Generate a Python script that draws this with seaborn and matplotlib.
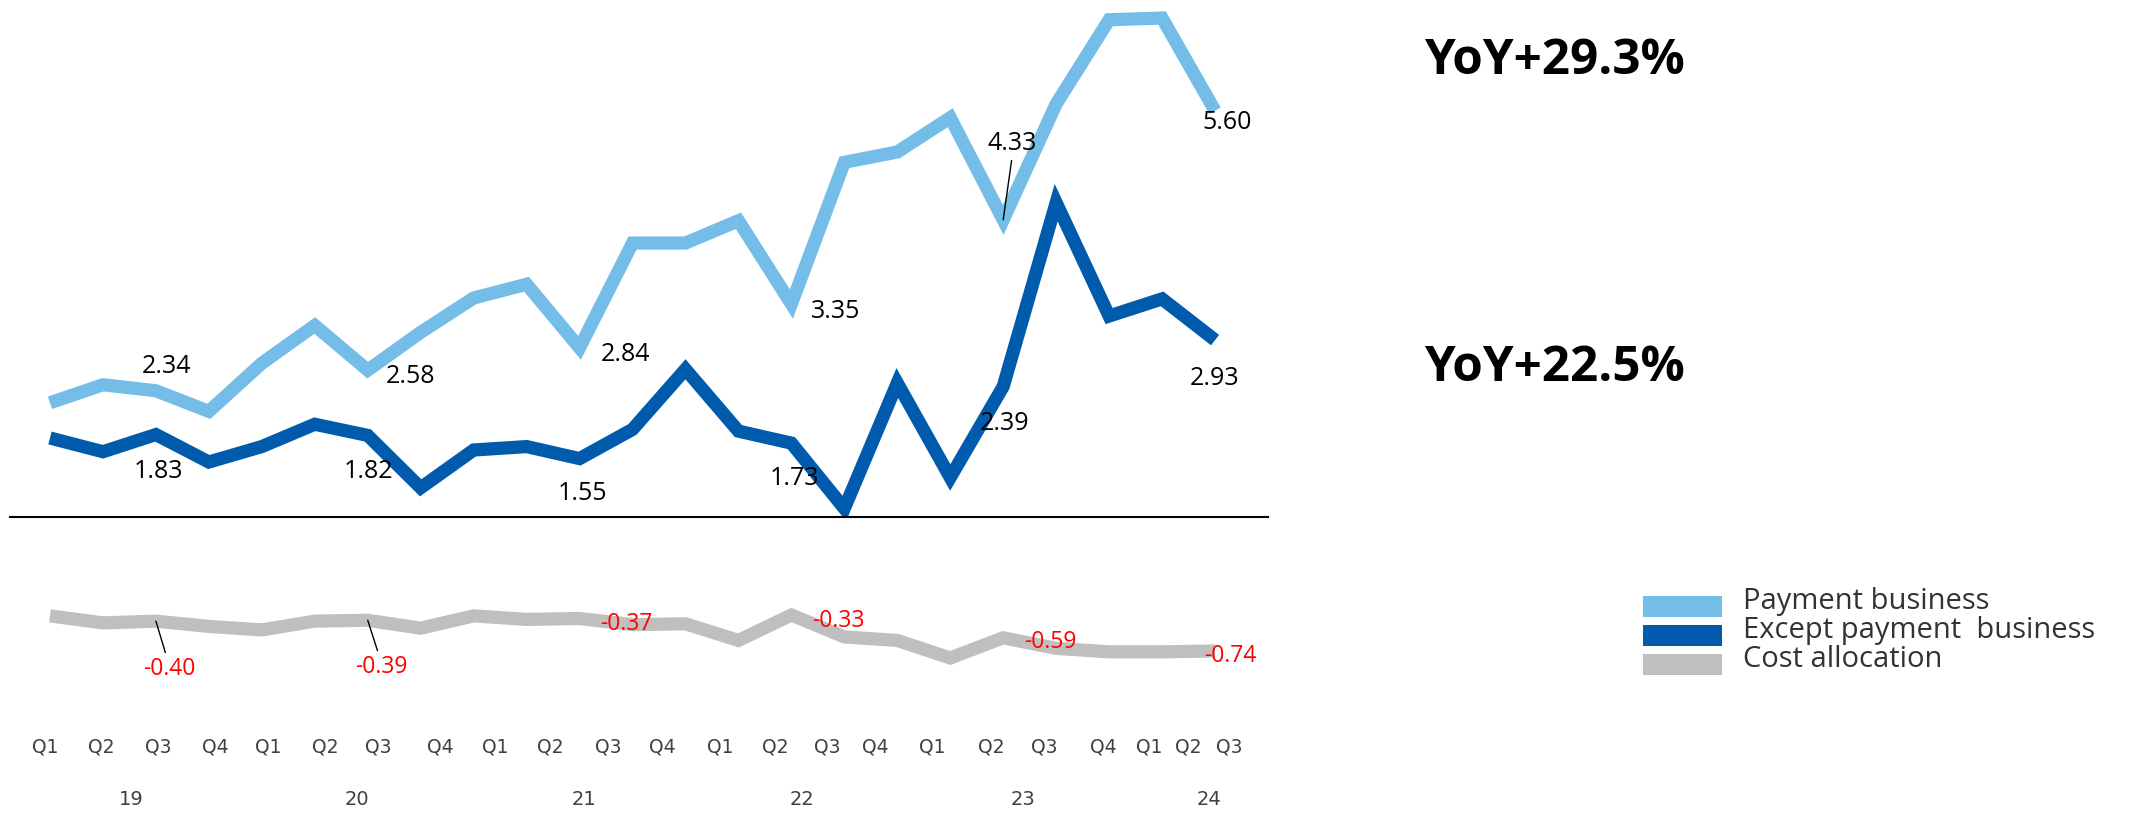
import matplotlib
matplotlib.use("Agg")
import matplotlib.pyplot as plt
from matplotlib.patches import Rectangle
from matplotlib.transforms import blended_transform_factory
import pandas as pd
import seaborn as sns

# ---- data -------------------------------------------------------------
quarters = ["Q1", "Q2", "Q3", "Q4"] * 5 + ["Q1", "Q2", "Q3"]
years = ["19", "20", "21", "22", "23", "24"]
payment = [2.20, 2.41, 2.34, 2.10, 2.66, 3.10, 2.58, 3.02, 3.42, 3.58, 2.84,
           4.06, 4.06, 4.32, 3.35, 5.00, 5.12, 5.52, 4.33, 5.68, 6.66, 6.68, 5.60]
except_payment = [1.79, 1.63, 1.83, 1.51, 1.69, 1.95, 1.82, 1.21, 1.65, 1.69, 1.55,
                  1.89, 2.59, 1.87, 1.73, 0.97, 2.43, 1.33, 2.39, 4.53, 3.21, 3.41, 2.93]
cost_allocation = [-0.34, -0.42, -0.40, -0.46, -0.50, -0.40, -0.39, -0.48, -0.34,
                   -0.38, -0.37, -0.44, -0.43, -0.62, -0.33, -0.58, -0.62, -0.82,
                   -0.59, -0.71, -0.75, -0.75, -0.74]
labelled_idx = [2, 6, 10, 14, 18, 22]          # Q3 of each year
yoy_texts = ["YoY+29.3%", "YoY+22.5%"]
series_names = ["Payment business", "Except payment  business", "Cost allocation"]

# ---- style ------------------------------------------------------------
sns.set_style("white")
plt.rcParams["font.family"] = ["Open Sans", "DejaVu Sans"]

C_PAY = "#75BDE9"
C_EXC = "#005BAC"
C_COST = "#BFBFBF"
LW = 9.5

n = len(quarters)
idx = list(range(n))
df = pd.DataFrame({"idx": idx, "payment": payment,
                   "except": except_payment, "cost": cost_allocation})

W, H = 2134, 814
fig = plt.figure(figsize=(W / 100, H / 100), dpi=100)

def px_axes(left, top, right, bottom):
    return fig.add_axes([left / W, 1 - bottom / H, (right - left) / W, (bottom - top) / H])

XLIM = (-0.755, 23.0)
ax_top = px_axes(10, 0, 1268, 517)
ax_bot = px_axes(10, 530, 1268, 700)

line_kw = dict(linewidth=LW, solid_joinstyle="miter", solid_capstyle="butt")
sns.lineplot(data=df, x="idx", y="payment", ax=ax_top, color=C_PAY, **line_kw)
sns.lineplot(data=df, x="idx", y="except", ax=ax_top, color=C_EXC, **line_kw)
sns.lineplot(data=df, x="idx", y="cost", ax=ax_bot, color=C_COST, **line_kw)

ax_top.set_xlim(*XLIM)
ax_top.set_ylim(0.87, 6.89)
ax_bot.set_xlim(*XLIM)
ax_bot.set_ylim(-1.299, 0.639)

for ax in (ax_top, ax_bot):
    ax.set_xlabel("")
    ax.set_ylabel("")
    ax.set_yticks([])
    for s in ax.spines.values():
        s.set_visible(False)
ax_top.set_xticks([])
ax_top.spines["bottom"].set_visible(True)
ax_top.spines["bottom"].set_color("black")
ax_top.spines["bottom"].set_linewidth(1.5)

# quarter tick labels (category axis spread slightly wider than the points) and year labels
tick_pos = [-0.08, 0.96, 2.04, 3.12, 4.12, 5.19, 6.19, 7.37, 8.40, 9.44, 10.54, 11.57,
            12.66, 13.69, 14.67, 15.58, 16.66, 17.77, 18.77, 19.89, 20.76, 21.49, 22.27]
year_pos = [1.53, 5.80, 10.08, 14.20, 18.38, 21.89]
ax_bot.set_xticks(tick_pos)
ax_bot.set_xticklabels(quarters, fontsize=13.5, color="#404040", family="DejaVu Sans")
ax_bot.tick_params(axis="x", length=0, pad=27)
trans = blended_transform_factory(ax_bot.transData, ax_bot.transAxes)
for yp, yl in zip(year_pos, years):
    ax_bot.text(yp, -0.618, yl, transform=trans, ha="center", va="baseline",
                fontsize=14, color="#404040", family="DejaVu Sans")

# value labels (offsets in points from the data point)
pay_off = [(7.9, 12.7), (31, -9.4), (32.8, -9.5), (32, -10), (6.5, 50.4), (9, -13)]
exc_off = [(1.8, -31.3), (0.7, -30.7), (1.8, -29.8), (2.2, -29.9), (1.1, -31), (-0.7, -32.4)]
cost_off = [(9.7, -38.9), (10, -38.2), (33.5, -8.3), (33.8, -8.6), (33.8, -7.2), (10.8, -7.7)]
pay_leader = [False, False, False, False, True, False]
cost_leader = [True, True, False, False, False, False]

leader = dict(arrowstyle="-", color="black", lw=1, shrinkA=1, shrinkB=0)

for k, i in enumerate(labelled_idx):
    ax_top.annotate(f"{payment[i]:.2f}", xy=(i, payment[i]), xytext=pay_off[k],
                    textcoords="offset points", ha="center", va="baseline",
                    fontsize=18, color="black",
                    arrowprops=dict(leader, relpos=(0.5, 0.0)) if pay_leader[k] else None,
                    annotation_clip=False)
    ax_top.annotate(f"{except_payment[i]:.2f}", xy=(i, except_payment[i]), xytext=exc_off[k],
                    textcoords="offset points", ha="center", va="baseline",
                    fontsize=18, color="black", annotation_clip=False)
    ax_bot.annotate(f"{cost_allocation[i]:.2f}", xy=(i, cost_allocation[i]), xytext=cost_off[k],
                    textcoords="offset points", ha="center", va="baseline",
                    fontsize=16.5, color="#FF0000",
                    arrowprops=dict(leader, relpos=(0.45, 1.0)) if cost_leader[k] else None,
                    annotation_clip=False)

# growth call-outs
for txt, base in zip(yoy_texts, [74, 381]):
    fig.text(1424 / W, 1 - base / H, txt, fontsize=35.5, fontweight="bold",
             color="black", ha="left", va="baseline")

# legend
for k, (name, col) in enumerate(zip(series_names, [C_PAY, C_EXC, C_COST])):
    top = 596 + 29 * k
    fig.add_artist(Rectangle((1643 / W, 1 - (top + 21) / H), 79 / W, 21 / H,
                             transform=fig.transFigure, facecolor=col, edgecolor="none"))
    fig.text(1743 / W, 1 - (609 + 29 * k) / H, name, fontsize=21, color="#333333",
             ha="left", va="baseline")

fig.savefig("out.png", dpi=100)
